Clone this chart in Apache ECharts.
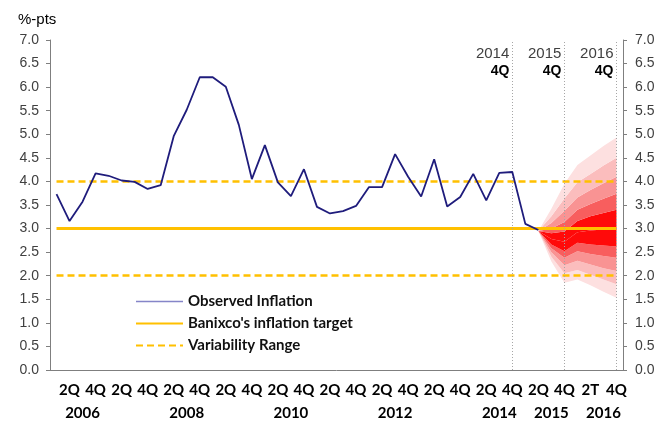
<!DOCTYPE html>
<html>
<head>
<meta charset="utf-8">
<script src="https://cdn.jsdelivr.net/npm/echarts@6/dist/echarts.min.js"></script>
<style>
html, body { margin: 0; padding: 0; background: #fff; }
#chart { width: 669px; height: 422px; }
</style>
</head>
<body>
<div id="chart"></div>
<script>
// quarters, 2006 1Q .. 2016 4Q
var categories = [
    '2006 1Q', '2006 2Q', '2006 3Q', '2006 4Q',
    '2007 1Q', '2007 2Q', '2007 3Q', '2007 4Q',
    '2008 1Q', '2008 2Q', '2008 3Q', '2008 4Q',
    '2009 1Q', '2009 2Q', '2009 3Q', '2009 4Q',
    '2010 1Q', '2010 2Q', '2010 3Q', '2010 4Q',
    '2011 1Q', '2011 2Q', '2011 3Q', '2011 4Q',
    '2012 1Q', '2012 2Q', '2012 3Q', '2012 4Q',
    '2013 1Q', '2013 2Q', '2013 3Q', '2013 4Q',
    '2014 1Q', '2014 2Q', '2014 3Q', '2014 4Q',
    '2015 1Q', '2015 2Q', '2015 3Q', '2015 4Q',
    '2016 1Q', '2016 2Q', '2016 3Q', '2016 4Q'
];
var yearLabels = ['2006', '2008', '2010', '2012', '2014', '2015', '2016'];
var quarterText = { '2016 2Q': '2T' };   // as printed in the original

var observed = [
    3.73, 3.16, 3.57, 4.17, 4.12, 4.02, 3.99, 3.84, 3.92, 4.96,
    5.52, 6.21, 6.21, 6.01, 5.20, 4.05, 4.77, 3.98, 3.69, 4.26,
    3.46, 3.32, 3.37, 3.48, 3.88, 3.88, 4.58, 4.10, 3.68, 4.47,
    3.47, 3.67, 4.16, 3.60, 4.18, 4.20, 3.10, 2.97
];

var target = 3.0;
var rangeLow = 2.0;
var rangeHigh = 4.0;

// fan chart boundaries, bottom to top, for 2015 2Q .. 2016 4Q
var fanQuarters = ['2015 2Q', '2015 3Q', '2015 4Q', '2016 1Q', '2016 2Q', '2016 3Q', '2016 4Q'];
var fanBounds = [
    [2.95, 2.30, 1.85, 1.92, 1.80, 1.66, 1.53],
    [2.95, 2.40, 2.05, 2.12, 2.02, 1.92, 1.82],
    [2.95, 2.50, 2.22, 2.32, 2.24, 2.16, 2.10],
    [2.95, 2.58, 2.38, 2.52, 2.46, 2.42, 2.38],
    [2.95, 2.66, 2.52, 2.70, 2.66, 2.64, 2.62],
    [2.95, 2.78, 2.72, 2.92, 2.96, 2.98, 3.00],
    [2.95, 2.90, 2.94, 3.16, 3.26, 3.33, 3.40],
    [2.95, 3.00, 3.14, 3.40, 3.52, 3.63, 3.74],
    [2.95, 3.12, 3.38, 3.66, 3.82, 3.96, 4.10],
    [2.95, 3.26, 3.64, 3.98, 4.16, 4.34, 4.50],
    [2.95, 3.42, 3.95, 4.35, 4.55, 4.75, 4.93]
];
var fanColors = ['#fde0e0', '#fbbdbd', '#f99393', '#f85e5e', '#ff0a0a',
                 '#ff0a0a', '#f85e5e', '#f99393', '#fbbdbd', '#fde0e0'];

var markers = ['2014 4Q', '2015 4Q', '2016 4Q'];

var chart = echarts.init(document.getElementById('chart'));
var yellow = '#ffc000';
var labelFont = 'Lato';

var series = [];
// fan: invisible base + stacked bands
series.push({
    type: 'line',
    stack: 'fan',
    symbol: 'none',
    silent: true,
    lineStyle: { opacity: 0 },
    data: fanQuarters.map(function (q, i) { return [q, fanBounds[0][i]]; }),
    z: 1
});
for (var k = 1; k < fanBounds.length; k++) {
    (function (k) {
        series.push({
            type: 'line',
            stack: 'fan',
            symbol: 'none',
            silent: true,
            lineStyle: { opacity: 0 },
            areaStyle: { color: fanColors[k - 1], opacity: 1 },
            data: fanQuarters.map(function (q, i) {
                return [q, +(fanBounds[k][i] - fanBounds[k - 1][i]).toFixed(3)];
            }),
            z: 1
        });
    })(k);
}

series.push({
    name: "Banixco's inflation target",
    type: 'line',
    symbol: 'none',
    data: [],
    lineStyle: { color: yellow, width: 3 },
    itemStyle: { color: yellow },
    markLine: {
        silent: true,
        symbol: 'none',
        label: { show: false },
        lineStyle: { color: yellow, width: 3, type: 'solid' },
        data: [[
            { coord: [categories[0], target] },
            { coord: [categories[categories.length - 1], target] }
        ]]
    },
    z: 5
});

series.push({
    name: 'Variability Range',
    type: 'line',
    symbol: 'none',
    data: [],
    lineStyle: { color: yellow, width: 2.5, type: [7, 4] },
    itemStyle: { color: yellow },
    markLine: {
        silent: true,
        symbol: 'none',
        label: { show: false },
        lineStyle: { color: yellow, width: 2.5, type: [7, 4] },
        data: [
            [{ coord: [categories[0], rangeHigh] }, { coord: [categories[categories.length - 1], rangeHigh] }],
            [{ coord: [categories[0], rangeLow] }, { coord: [categories[categories.length - 1], rangeLow] }]
        ]
    },
    z: 5
});

series.push({
    name: 'Observed Inflation',
    type: 'line',
    symbol: 'none',
    data: observed,
    lineStyle: { color: '#1f1c7c', width: 1.8 },
    itemStyle: { color: '#1f1c7c' },
    markLine: {
        silent: true,
        symbol: 'none',
        label: { show: false },
        lineStyle: { color: '#a6a6a6', width: 1, type: [1, 2] },
        data: markers.map(function (m) { return { xAxis: m }; })
    },
    markPoint: {
        silent: true,
        symbol: 'circle',
        symbolSize: 0,
        label: {
            show: true,
            position: 'left',
            distance: 3,
            align: 'right',
            formatter: function (p) {
                var parts = p.name.split(' ');
                return '{y|' + parts[0] + '}\n{q|' + parts[1] + '}';
            },
            rich: {
                y: { fontFamily: 'Liberation Sans', fontSize: 15, color: '#404040', lineHeight: 18, align: 'right' },
                q: { fontFamily: 'Liberation Sans', fontSize: 14, fontWeight: 'bold', color: '#000', lineHeight: 18, align: 'right' }
            }
        },
        data: markers.map(function (m) { return { name: m, coord: [m, 6.52] }; })
    },
    z: 6
});

var yAxisBase = {
    type: 'value',
    min: 0,
    max: 7,
    interval: 0.5,
    splitLine: { show: false },
    axisLine: { show: true, lineStyle: { color: '#7f7f7f', width: 1 } },
    axisTick: { show: true, length: 4, lineStyle: { color: '#7f7f7f' } }
};

var xLabelStyle = { fontFamily: labelFont, fontSize: 15, fontWeight: 'bold', color: '#000' };

chart.setOption({
    animation: false,
    title: {
        text: '%-pts',
        left: 13,
        top: 7,
        textStyle: { fontFamily: 'Liberation Sans', fontSize: 15, fontWeight: 'normal', color: '#000' }
    },
    grid: { left: 50, right: 46, top: 40, bottom: 52 },
    legend: {
        orient: 'vertical',
        left: 130,
        top: 289,
        itemWidth: 47,
        itemHeight: 14,
        itemGap: 7,
        itemStyle: { opacity: 0 },
        textStyle: { fontFamily: labelFont, fontSize: 15, fontWeight: 'bold', color: '#111' },
        data: [
            { name: 'Observed Inflation', lineStyle: { color: '#8585c8', width: 1.5 } },
            { name: "Banixco's inflation target" },
            { name: 'Variability Range' }
        ]
    },
    xAxis: [
        {
            type: 'category',
            data: categories,
            position: 'bottom',
            boundaryGap: true,
            axisLine: { show: true, lineStyle: { color: '#7f7f7f', width: 1 } },
            axisTick: { show: false },
            axisLabel: Object.assign({
                margin: 13,
                showMinLabel: true,
                showMaxLabel: true,
                interval: function (index) { return index % 2 === 1; },
                formatter: function (value) {
                    return quarterText[value] || value.split(' ')[1];
                }
            }, xLabelStyle)
        },
        {
            type: 'category',
            data: categories,
            position: 'bottom',
            boundaryGap: true,
            axisLine: { show: false },
            axisTick: { show: false },
            splitLine: { show: false },
            axisLabel: Object.assign({
                margin: 36,
                interval: function (index, value) {
                    return index % 4 === 2 && yearLabels.indexOf(value.split(' ')[0]) >= 0;
                },
                formatter: function (value) { return value.split(' ')[0]; }
            }, xLabelStyle)
        }
    ],
    yAxis: [
        Object.assign({}, yAxisBase, {
            position: 'left',
            axisLabel: {
                margin: 11,
                fontFamily: 'Liberation Sans',
                fontSize: 14,
                color: '#404040',
                formatter: function (v) { return v.toFixed(1); }
            }
        }),
        Object.assign({}, yAxisBase, {
            position: 'right',
            axisLabel: {
                margin: 12,
                fontFamily: 'Liberation Sans',
                fontSize: 14,
                color: '#404040',
                formatter: function (v) { return v.toFixed(1); }
            }
        })
    ],
    series: series
});
</script>
</body>
</html>
